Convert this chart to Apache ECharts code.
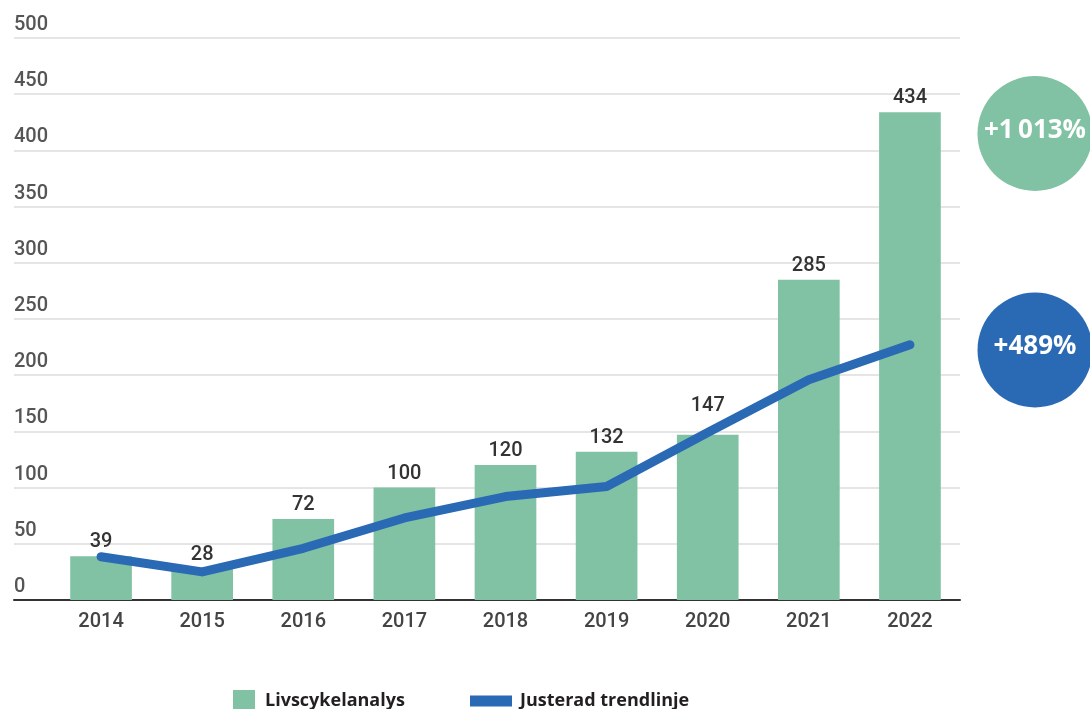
<!DOCTYPE html>
<html><head><meta charset="utf-8">
<script src="https://cdn.jsdelivr.net/npm/echarts@6/dist/echarts.min.js"></script>
<style>html,body{margin:0;padding:0;background:#fff}#c{width:1090px;height:709px}</style>
</head><body><div id="c"></div>
<script>
const years = ['2014','2015','2016','2017','2018','2019','2020','2021','2022'];
const lcaValues = [39, 28, 72, 100, 120, 132, 147, 285, 434];
const trendValues = [38.5, 25, 46, 73, 92, 101, 149, 196, 227];
const yTicks = {min: 0, max: 500, interval: 50};
const badges = ['+1\u2009013%', '+489%'];
const seriesNames = ['Livscykelanalys', 'Justerad trendlinje'];

const green = '#80c2a3', blue = '#2a69b4';
const chart = echarts.init(document.getElementById('c'), null, {renderer: 'canvas'});
chart.setOption({
  animation: false,
  grid: [
    {left: 14, right: 130, top: 38, bottom: 109},
    {left: 50.5, right: 129.5, top: 38, bottom: 109}
  ],
  xAxis: [
    {type: 'value', gridIndex: 0, min: 0, max: 1, axisLabel: {show: false}, axisTick: {show: false}, splitLine: {show: false},
     axisLine: {show: true, lineStyle: {color: '#333', width: 2}}},
    {type: 'category', gridIndex: 1, data: years, axisLine: {show: false}, axisTick: {show: false},
     axisLabel: {margin: 12, fontFamily: 'Roboto', fontWeight: 500, fontSize: 20, color: '#444'}}
  ],
  yAxis: [
    {type: 'value', gridIndex: 0, min: yTicks.min, max: yTicks.max, interval: yTicks.interval,
     axisLine: {show: false}, axisTick: {show: false},
     splitLine: {lineStyle: {color: '#dcdcdc', width: 1.5}},
     axisLabel: {inside: true, margin: 0, align: 'left', verticalAlign: 'bottom', padding: [0, 0, 3, 0],
       fontFamily: 'Roboto', fontWeight: 500, fontSize: 20, color: '#555'}},
    {type: 'value', gridIndex: 1, min: yTicks.min, max: yTicks.max, interval: yTicks.interval, show: false}
  ],
  legend: [
    {data: [{name: seriesNames[0], icon: 'rect'}], left: 233, top: 690, padding: 0, itemWidth: 22, itemHeight: 22, itemGap: 10,
     textStyle: {fontFamily: 'Open Sans', fontWeight: 'bold', fontSize: 18, color: '#231f20', padding: [0, 0, 0, 5]}},
    {data: [{name: seriesNames[1], icon: 'rect'}], left: 470, top: 692, padding: 0, itemWidth: 42, itemHeight: 11,
     textStyle: {fontFamily: 'Open Sans', fontWeight: 'bold', fontSize: 18, color: '#231f20', padding: [2, 0, 0, 3]}}
  ],
  series: [
    {name: seriesNames[0], type: 'bar', xAxisIndex: 1, yAxisIndex: 1, barWidth: '61%',
     itemStyle: {color: green},
     data: lcaValues.map((v, i) => i === 6 ? {value: v, label: {offset: [0, -15]}} : v),
     label: {show: true, position: 'top', distance: 4, fontFamily: 'Roboto', fontWeight: 500, fontSize: 20, color: '#333'}},
    {name: seriesNames[1], type: 'line', xAxisIndex: 1, yAxisIndex: 1, data: trendValues,
     showSymbol: false, symbol: 'none', lineStyle: {color: blue, width: 9, cap: 'round', join: 'round'},
     itemStyle: {color: blue}}
  ],
  graphic: [
    {type: 'circle', shape: {cx: 1035, cy: 133.5, r: 57.5}, style: {fill: green}},
    {type: 'text', x: 1035, y: 131, style: {text: badges[0], fill: '#fff', font: 'bold 26px "Open Sans"', align: 'center', verticalAlign: 'middle'}},
    {type: 'circle', shape: {cx: 1035, cy: 350, r: 57.5}, style: {fill: blue}},
    {type: 'text', x: 1035, y: 347, style: {text: badges[1], fill: '#fff', font: 'bold 26px "Open Sans"', align: 'center', verticalAlign: 'middle'}}
  ]
});
</script></body></html>
